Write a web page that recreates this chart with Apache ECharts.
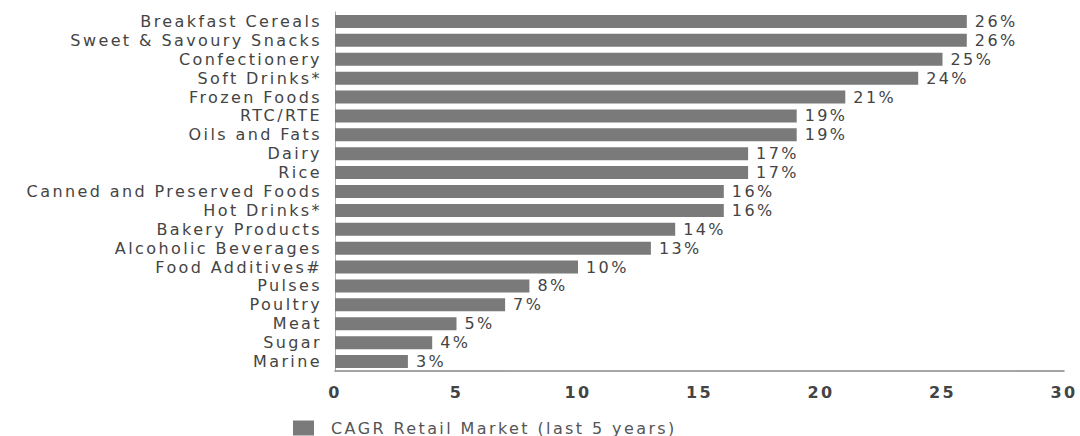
<!DOCTYPE html>
<html><head><meta charset="utf-8">
<script src="https://cdn.jsdelivr.net/npm/echarts@6/dist/echarts.min.js"></script>
<style>html,body{margin:0;padding:0;background:#fff}#c{width:1080px;height:436px}
#c svg text{letter-spacing:2.4px}</style>
</head><body><div id="c"></div>
<script>
const categories = ["Breakfast Cereals","Sweet & Savoury Snacks","Confectionery","Soft Drinks*","Frozen Foods","RTC/RTE","Oils and Fats","Dairy","Rice","Canned and Preserved Foods","Hot Drinks*","Bakery Products","Alcoholic Beverages","Food Additives#","Pulses","Poultry","Meat","Sugar","Marine"];
const values = [26,26,25,24,21,19,19,17,17,16,16,14,13,10,8,7,5,4,3];
const seriesName = "CAGR Retail Market (last 5 years)";
const xTicks = [0,5,10,15,20,25,30];

const font = "'DejaVu Sans', Verdana, sans-serif";
const chart = echarts.init(document.getElementById('c'), null, {renderer:'svg'});
chart.setOption({
  animation:false,
  grid:{left:335,right:16,top:12,bottom:65,containLabel:false},
  legend:{data:[seriesName],left:288,top:415,itemWidth:21,itemHeight:15,itemGap:8,
    textStyle:{fontFamily:font,fontSize:16,color:'#555',padding:[0,0,0,12]},icon:'rect'},
  xAxis:{type:'value',min:0,max:30,interval:5,
    axisLine:{show:true,lineStyle:{color:'#888',width:1.5}},
    axisTick:{show:false},splitLine:{show:false},
    axisLabel:{fontFamily:font,fontSize:16,color:'#444',fontWeight:'bold',margin:13}},
  yAxis:{type:'category',inverse:true,data:categories,
    axisLine:{show:true,lineStyle:{color:'#aaa',width:1}},axisTick:{show:false},
    axisLabel:{interval:0,fontFamily:font,fontSize:16,color:'#444',margin:13}},
  series:[{name:seriesName,type:'bar',data:values,barWidth:13,
    itemStyle:{color:'#7a7a7a'},
    label:{show:true,position:'right',distance:8,formatter:'{c}%',fontFamily:font,fontSize:16,color:'#444'}}]
});
</script></body></html>
